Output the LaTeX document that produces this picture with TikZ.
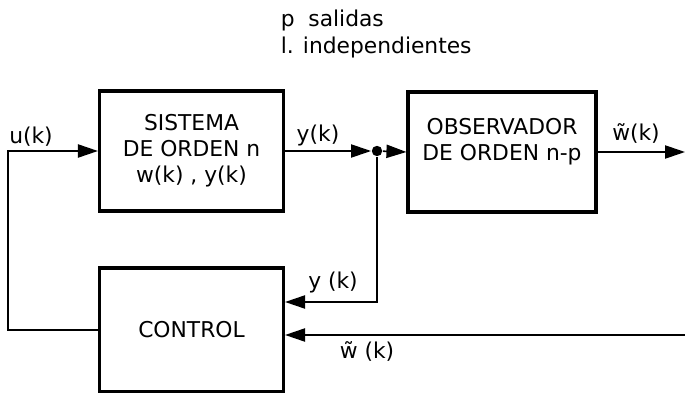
\documentclass[tikz,border=0pt]{standalone}
\usepackage{fontspec}
\setmainfont{DejaVu Sans}
\usetikzlibrary{positioning}
\usetikzlibrary{calc}
\usetikzlibrary{arrows.meta}
\tikzset{
bx/.style={
  rectangle,
  draw=black,
  line width=2.2pt,
  minimum width=4.6cm,
  minimum height=3cm,
  align=center,
  inner sep=0pt
  },
lb/.style={
  inner sep=0pt
  },
dt/.style={
  circle,
  fill=black,
  inner sep=0pt,
  minimum size=2.6mm
  }
}

\begin{document}
\begin{tikzpicture}[x=0.025cm,y=-0.025cm,>={Triangle[length=5mm,width=3.3mm]},line width=1.1pt,font=\fontsize{15.5}{18.5}\selectfont]
            \useasboundingbox (0,0) rectangle (685,393);
            % bloques
            \node[bx]                   (sys)  at (191.5,151) {SISTEMA\\DE ORDEN n\\w(k) , y(k)};
            \node[bx,minimum width=4.7cm] (obs) at (502,152) {OBSERVADOR\\DE ORDEN n-p\\\mbox{}};
            \node[bx,minimum height=3.1cm] (ctrl) at (191.5,330) {CONTROL};
            \node[dt]                   (dot)  at (377,151) {};
            \coordinate (lc) at (8,330);
            \coordinate (oe) at (685,152);
            \coordinate (yb) at (377,302);
            \coordinate (wr) at (685,335);
            % textos
            \node[lb]             (u)  at (31,137)  {u(k)};
            \node[lb]             (y1) at (318,135) {y(k)};
            \node[lb]             (w1) at (636,133) {\~{w}(k)};
            \node[lb]             (y2) at (333,282) {y (k)};
            \node[lb]             (w2) at (367,351) {\~{w} (k)};
            \node[lb,anchor=west] (ps) at (280,20)  {p\ \ salidas};
            \node[lb,anchor=west] (li) at (280,47)  {l. independientes};
            \path[->]
            (sys.east) edge (dot)
            (dot) edge (obs.west)
            (obs.east) edge (oe)
            (wr) edge (wr -| ctrl.east)
            ;
            \draw[->] (ctrl.west) -- (lc) |- (sys.west);
            \draw[->] (dot) -- (yb) -- (yb -| ctrl.east);
        \end{tikzpicture}
\end{document}
